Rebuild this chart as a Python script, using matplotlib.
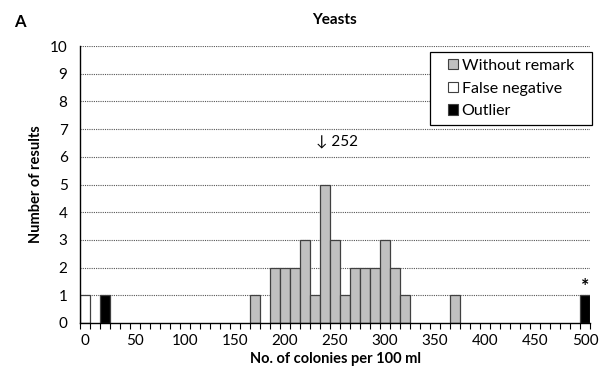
import matplotlib.pyplot as plt
import matplotlib.patches as mpatches
import numpy as np

plt.rcParams['font.family'] = ['Lato', 'DejaVu Sans']

# bin centres (colonies per 100 ml) and counts
normal_x = [170, 190, 200, 210, 220, 230, 240, 250, 260, 270, 280, 290, 300, 310, 320, 370]
normal_y = [1, 2, 2, 2, 3, 1, 5, 3, 1, 2, 2, 2, 3, 2, 1, 1]
false_neg_x = [0]
false_neg_y = [1]
outlier_x = [20, 500]
outlier_y = [1, 1]
assigned_value = 252

W, H = 600, 383
fig = plt.figure(figsize=(6, 3.83), dpi=100)
ax = fig.add_axes([80/W, 1-323/H, 510/W, 277/H])

# dotted gridlines
for g in range(1, 11):
    ax.axhline(g, color='#555555', lw=0.8, ls=(0, (1, 1)), zorder=0)

ec = '#404040'
ax.bar(normal_x, normal_y, width=10, color='#c0c0c0', edgecolor=ec, lw=0.9, label='Without remark', zorder=2)
ax.bar(false_neg_x, false_neg_y, width=10, color='white', edgecolor=ec, lw=0.9, label='False negative', zorder=2)
ax.bar(outlier_x, outlier_y, width=10, color='black', edgecolor=ec, lw=0.9, label='Outlier', zorder=2)

ax.text(500, 1.0, '*', ha='center', va='bottom', fontsize=14, fontweight='bold')
ax.text(assigned_value, 6.55, '\u2193 252', ha='center', va='center', fontsize=11)

ax.set_xlim(-5, 505)
ax.set_ylim(0, 10)
ax.set_xticks(range(0, 501, 50))
ax.set_xticks(np.arange(-5, 506, 10), minor=True)
ax.tick_params(axis='x', which='major', length=0, labelsize=11, pad=8)
ax.tick_params(axis='x', which='minor', length=4, width=0.8, direction='out')
ax.set_yticks(range(0, 11))
ax.tick_params(axis='y', length=0, labelsize=11, pad=9)

for s in ['top', 'right']:
    ax.spines[s].set_visible(False)
ax.spines['left'].set_linewidth(1.0)
ax.spines['bottom'].set_linewidth(1.0)

ax.set_xlabel('No. of colonies per 100 ml', fontsize=10.5, fontweight='bold', labelpad=3)
ax.set_ylabel('Number of results', fontsize=10.5, fontweight='bold', labelpad=5)
ax.set_title('Yeasts', fontsize=11, fontweight='bold', pad=16)
fig.text(14/W, 1-22/H, 'A', fontsize=12, fontweight='bold', va='center')

# legend box drawn separately so the padding matches
box = mpatches.Rectangle((430/W, 1-125/H), 162/W, 73/H, transform=fig.transFigure,
                         facecolor='white', edgecolor='black', lw=0.9, zorder=4, clip_on=False)
ax.add_patch(box)
leg = ax.legend(loc='center', bbox_to_anchor=(511/W, 1-88.5/H), bbox_transform=fig.transFigure,
                fontsize=11.5, frameon=False, handlelength=0.65, handleheight=0.65,
                handletextpad=0.2, borderpad=0, labelspacing=0.55)
leg.set_zorder(6)
for h in leg.legend_handles:
    h.set_linewidth(0.8)

fig.savefig('out.png', dpi=100)
